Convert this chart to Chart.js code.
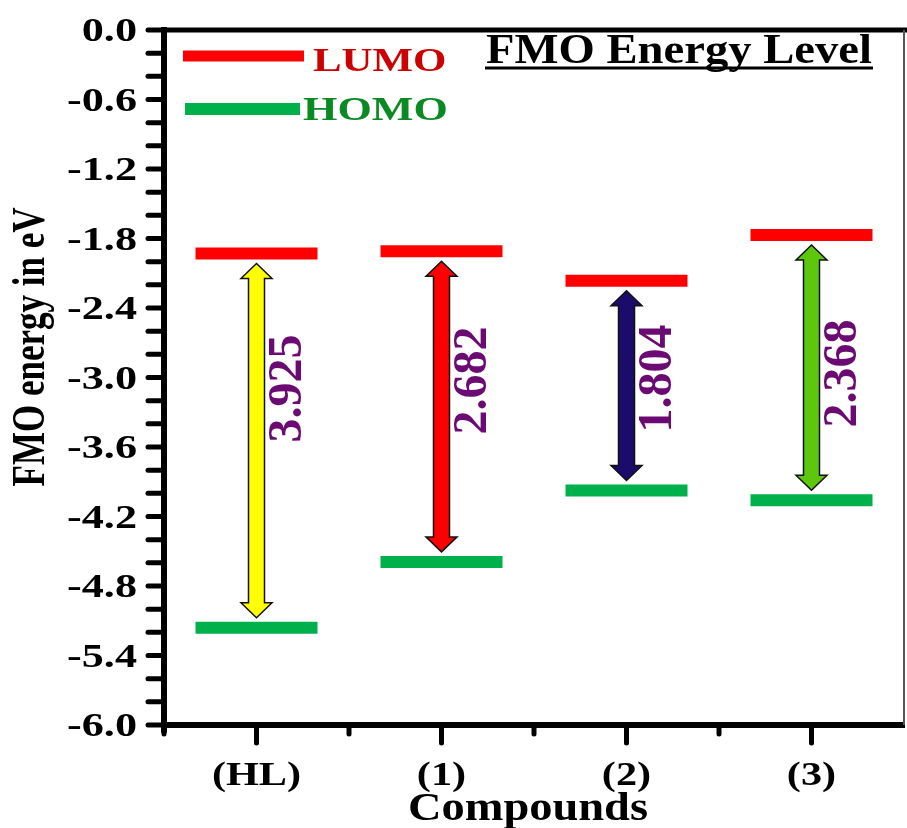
<!DOCTYPE html>
<html>
<head>
<meta charset="utf-8">
<script src="https://cdn.jsdelivr.net/npm/chart.js@4.4.1/dist/chart.umd.min.js"></script>
<style>
  html, body { margin: 0; padding: 0; background: #ffffff; overflow: hidden; }
  canvas { display: block; }
</style>
</head>
<body>
<canvas id="fmo" width="907" height="828"></canvas>
<script>
// Frontier molecular orbital energies (eV) of the ligand and its complexes
const compounds = ['(HL)', '(1)', '(2)', '(3)'];
const lumoEnergy = [-1.93, -1.91, -2.165, -1.77];
const homoEnergy = [-5.16, -4.592, -3.975, -4.06];
const gapLabels = ['3.925', '2.682', '1.804', '2.368'];
const yTickLabels = [0.0, -0.6, -1.2, -1.8, -2.4, -3.0, -3.6, -4.2, -4.8, -5.4, -6.0];

// styling
const arrowFill = ['#ffff00', '#ff0000', '#1b0c6c', '#5cc70c'];
const gapLabelShift = [8, 0, -2, -7];   // vertical nudge of each gap label (px)
const LUMO_COLOR = '#ff0000';
const HOMO_COLOR = '#00b04a';
const SERIF = '"Liberation Serif", "Times New Roman", serif';

function drawText(ctx, s, x, y, size, opts) {
  const o = Object.assign({ sx: 1, sy: 1, color: '#000', align: 'left', rot: 0 }, opts || {});
  ctx.save();
  ctx.translate(x, y);
  if (o.rot) ctx.rotate(o.rot);
  ctx.font = 'bold ' + size + 'px ' + SERIF;
  let sx = o.sx;
  if (o.width) sx = o.width / ctx.measureText(s).width;
  ctx.scale(sx, o.sy);
  ctx.fillStyle = o.color;
  ctx.textAlign = o.align;
  ctx.textBaseline = 'alphabetic';
  ctx.fillText(s, 0, 0);
  ctx.restore();
}

function drawGapArrow(ctx, x, yTop, yBot, fill) {
  const sh = 8, hh = 15.5, hl = 15;
  ctx.save();
  ctx.beginPath();
  ctx.moveTo(x, yTop);
  ctx.lineTo(x + hh, yTop + hl);
  ctx.lineTo(x + sh, yTop + hl);
  ctx.lineTo(x + sh, yBot - hl);
  ctx.lineTo(x + hh, yBot - hl);
  ctx.lineTo(x, yBot);
  ctx.lineTo(x - hh, yBot - hl);
  ctx.lineTo(x - sh, yBot - hl);
  ctx.lineTo(x - sh, yTop + hl);
  ctx.lineTo(x - hh, yTop + hl);
  ctx.closePath();
  ctx.fillStyle = fill;
  ctx.fill();
  ctx.lineWidth = 1.5;
  ctx.lineJoin = 'miter';
  ctx.strokeStyle = '#111';
  ctx.stroke();
  ctx.restore();
}

const diagramPlugin = {
  id: 'energyDiagram',
  afterDatasetsDraw(chart) {
    const { ctx, scales: { x, y } } = chart;
    // band-gap arrows between each LUMO and HOMO level
    compounds.forEach((c, i) => {
      const px = x.getPixelForValue(i);
      const yTop = y.getPixelForValue(lumoEnergy[i]) + 10;
      const yBot = y.getPixelForValue(homoEnergy[i]) - 10;
      drawGapArrow(ctx, px, yTop, yBot, arrowFill[i]);
    });
    // band-gap values, written upward beside the arrows
    const a = chart.chartArea;
    const midY = (a.top + a.bottom) / 2 + 3;
    compounds.forEach((c, i) => {
      const px = x.getPixelForValue(i);
      drawText(ctx, gapLabels[i], px + 44, midY + gapLabelShift[i], 48,
        { rot: -Math.PI / 2, align: 'center', color: '#6a0a72' });
    });
  },
  afterDraw(chart) {
    const { ctx, chartArea: a, scales: { x, y } } = chart;
    ctx.save();
    // frame: heavy top rule and thin right edge
    ctx.fillStyle = '#000';
    ctx.fillRect(a.left - 2, a.top - 2.5, chart.width - a.left + 2, 5);
    ctx.fillStyle = '#555';
    ctx.fillRect(a.right - 1, a.top, 2, a.bottom - a.top);
    // left axis runs a little past the bottom axis
    ctx.strokeStyle = '#000';
    ctx.lineCap = 'round';
    ctx.lineWidth = 6;
    ctx.beginPath();
    ctx.moveTo(a.left, a.bottom);
    ctx.lineTo(a.left, a.bottom + 6);
    ctx.stroke();

    // y ticks: minor every 0.2 eV, labelled every 0.6 eV
    ctx.lineWidth = 5;
    for (let k = 0; k <= 30; k++) {
      const py = y.getPixelForValue(-k * 0.2);
      ctx.beginPath();
      ctx.moveTo(a.left - 16, py);
      ctx.lineTo(a.left, py);
      ctx.stroke();
    }
    yTickLabels.forEach(v => {
      const py = y.getPixelForValue(v);
      const s = v === 0 ? '0.0' : v.toFixed(1);
      drawText(ctx, s, 137, py + 11, 34, { sx: 1.3, align: 'right' });
    });

    // x ticks: long at each compound, short at the boundaries
    const step = x.getPixelForValue(1) - x.getPixelForValue(0);
    compounds.forEach((c, i) => {
      const px = x.getPixelForValue(i);
      ctx.beginPath();
      ctx.moveTo(px, a.bottom);
      ctx.lineTo(px, a.bottom + 18);
      ctx.stroke();
      const bx = px - step / 2;
      ctx.beginPath();
      ctx.moveTo(bx, a.bottom);
      ctx.lineTo(bx, a.bottom + 9);
      ctx.stroke();
      drawText(ctx, c, px, 785, 33, { sx: 1.28, align: 'center' });
    });
    ctx.restore();

    // axis titles
    drawText(ctx, 'Compounds', (a.left + a.right) / 2 - 6, 820, 40, { width: 240, align: 'center' });
    drawText(ctx, 'FMO energy in eV', 44, 347, 35, { sy: 1.3, rot: -Math.PI / 2, align: 'center' });

    // heading
    drawText(ctx, 'FMO Energy Level', 486, 63, 42, { width: 386 });
    ctx.fillStyle = '#000';
    ctx.fillRect(485, 66.5, 388, 3);

    // key
    ctx.fillStyle = LUMO_COLOR;
    ctx.fillRect(183, 50.5, 121, 11);
    ctx.fillStyle = HOMO_COLOR;
    ctx.fillRect(185, 103, 115, 12);
    drawText(ctx, 'LUMO', 313, 71, 33, { sx: 1.3, color: '#cc0000' });
    drawText(ctx, 'HOMO', 303, 120, 34, { sx: 1.3, color: '#0a8a22' });
  }
};

function build() {
  new Chart(document.getElementById('fmo'), {
    type: 'line',
    data: {
      labels: compounds,
      datasets: [
        {
          label: 'LUMO',
          data: lumoEnergy,
          showLine: false,
          pointStyle: 'line',
          pointRadius: 61,
          pointHoverRadius: 61,
          pointBorderWidth: 12,
          pointHoverBorderWidth: 12,
          borderColor: LUMO_COLOR,
          backgroundColor: LUMO_COLOR
        },
        {
          label: 'HOMO',
          data: homoEnergy,
          showLine: false,
          pointStyle: 'line',
          pointRadius: 61,
          pointHoverRadius: 61,
          pointBorderWidth: 12,
          pointHoverBorderWidth: 12,
          borderColor: HOMO_COLOR,
          backgroundColor: HOMO_COLOR
        }
      ]
    },
    options: {
      responsive: false,
      animation: false,
      devicePixelRatio: 1,
      events: [],
      layout: { autoPadding: false, padding: { left: 0, top: 30, right: 3, bottom: 0 } },
      plugins: { legend: { display: false }, tooltip: { enabled: false } },
      scales: {
        x: {
          type: 'category',
          offset: true,
          grid: { display: false, offset: true },
          border: { display: true, color: '#000', width: 6 },
          ticks: { display: false },
          afterFit(scale) { scale.height = 103; }
        },
        y: {
          type: 'linear',
          min: -6,
          max: 0,
          grid: { display: false },
          border: { display: true, color: '#000', width: 6 },
          ticks: { display: false, stepSize: 0.2 },
          afterFit(scale) { scale.width = 164; }
        }
      }
    },
    plugins: [diagramPlugin]
  });
}

const fontReady = document.fonts && document.fonts.load
  ? Promise.all([
      document.fonts.load('bold 34px "Liberation Serif"'),
      document.fonts.load('bold 34px "Times New Roman"')
    ]).catch(() => null)
  : Promise.resolve();
fontReady.then(build, build);
</script>
</body>
</html>
